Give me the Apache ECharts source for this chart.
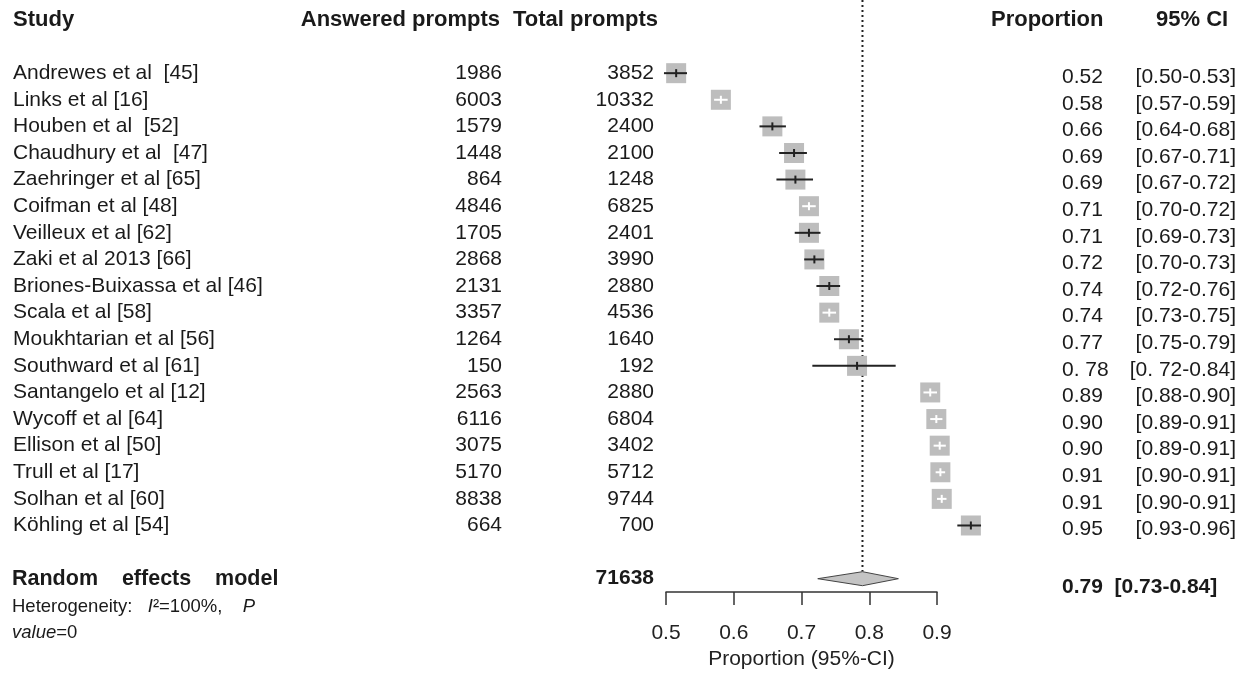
<!DOCTYPE html>
<html>
<head>
<meta charset="utf-8">
<script src="https://cdn.jsdelivr.net/npm/echarts@6.0.0/dist/echarts.min.js"></script>
<style>
  html, body { margin: 0; padding: 0; background: #fff; }
  #forest { width: 1246px; height: 675px; }
</style>
</head>
<body>
<div id="forest"></div>
<script>
const headers = ["Study", "Answered prompts", "Total prompts", "Proportion", "95% CI"];
const studies = [
  "Andrewes et al  [45]", "Links et al [16]", "Houben et al  [52]", "Chaudhury et al  [47]",
  "Zaehringer et al [65]", "Coifman et al [48]", "Veilleux et al [62]", "Zaki et al 2013 [66]",
  "Briones-Buixassa et al [46]", "Scala et al [58]", "Moukhtarian et al [56]", "Southward et al [61]",
  "Santangelo et al [12]", "Wycoff et al [64]", "Ellison et al [50]", "Trull et al [17]",
  "Solhan et al [60]", "Köhling et al [54]"
];
const answered = ["1986", "6003", "1579", "1448", "864", "4846", "1705", "2868", "2131",
  "3357", "1264", "150", "2563", "6116", "3075", "5170", "8838", "664"];
const total = ["3852", "10332", "2400", "2100", "1248", "6825", "2401", "3990", "2880",
  "4536", "1640", "192", "2880", "6804", "3402", "5712", "9744", "700"];
const propText = ["0.52", "0.58", "0.66", "0.69", "0.69", "0.71", "0.71", "0.72", "0.74",
  "0.74", "0.77", "0. 78", "0.89", "0.90", "0.90", "0.91", "0.91", "0.95"];
const ciText = ["[0.50-0.53]", "[0.57-0.59]", "[0.64-0.68]", "[0.67-0.71]", "[0.67-0.72]",
  "[0.70-0.72]", "[0.69-0.73]", "[0.70-0.73]", "[0.72-0.76]", "[0.73-0.75]", "[0.75-0.79]",
  "[0. 72-0.84]", "[0.88-0.90]", "[0.89-0.91]", "[0.89-0.91]", "[0.90-0.91]", "[0.90-0.91]",
  "[0.93-0.96]"];
// estimates and interval ends
const est = [0.515, 0.581, 0.657, 0.689, 0.691, 0.711, 0.711, 0.719, 0.741,
  0.741, 0.770, 0.782, 0.890, 0.899, 0.904, 0.905, 0.907, 0.950];
const lower = [0.497, 0.571, 0.638, 0.667, 0.663, 0.701, 0.690, 0.704, 0.722,
  0.731, 0.748, 0.716, 0.880, 0.890, 0.895, 0.898, 0.900, 0.930];
const upper = [0.531, 0.591, 0.677, 0.708, 0.717, 0.721, 0.728, 0.733, 0.757,
  0.751, 0.790, 0.839, 0.900, 0.908, 0.913, 0.912, 0.914, 0.965];
const pooledEst = 0.79;
const pooledLower = 0.724;
const pooledUpper = 0.843;
const pooledTotal = "71638";
const pooledText = "0.79  [0.73-0.84]";

const FONT = '"Liberation Sans", Arial, sans-serif';
const INK = "#1a1a1a";
const pooledRow = studies.length + 1;

// column anchors for the table text
const colX = [13, 502, 654, 1062, 1236];
const colAlign = ["left", "right", "right", "left", "right"];

function txt(x, y, text, size, align, weight) {
  return {
    type: "text",
    x: x,
    y: y,
    silent: true,
    style: {
      text: text,
      font: (weight || "normal") + " " + size + "px " + FONT,
      fill: INK,
      align: align,
      verticalAlign: "middle",
    },
  };
}

const chart = echarts.init(document.getElementById("forest"));

const option = {
  animation: false,
  backgroundColor: "#fff",
  grid: { left: 666, right: 309, top: 0, bottom: 83 },
  xAxis: {
    type: "value",
    min: 0.5,
    max: 0.9,
    interval: 0.1,
    splitLine: { show: false },
    axisLine: { show: true, onZero: false, lineStyle: { color: "#333", width: 1.5 } },
    axisTick: { show: true, length: 13, lineStyle: { color: "#333", width: 1.5 } },
    axisLabel: {
      color: "#222",
      fontSize: 21,
      fontFamily: FONT,
      margin: 31,
      formatter: (v) => v.toFixed(1),
    },
    name: "Proportion (95%-CI)",
    nameLocation: "middle",
    nameGap: 57,
    nameTextStyle: { color: "#222", fontSize: 21, fontFamily: FONT },
  },
  yAxis: {
    type: "value",
    inverse: true,
    min: -2.75,
    max: 19.5,
    show: false,
  },
  series: [
    {
      // reference line at the pooled estimate
      type: "line",
      data: [[pooledEst, -2.75], [pooledEst, pooledRow - 0.27]],
      symbol: "none",
      silent: true,
      lineStyle: { color: "#222", width: 2, type: [2, 3] },
      z: 1,
    },
    {
      // study boxes with confidence intervals
      type: "custom",
      data: est.map((e, i) => [e, i, lower[i], upper[i]]),
      clip: false,
      silent: true,
      z: 3,
      renderItem: (params, api) => {
        const c = api.coord([api.value(0), api.value(1)]);
        const lo = api.coord([api.value(2), api.value(1)]);
        const hi = api.coord([api.value(3), api.value(1)]);
        const half = 10;
        const inside = lo[0] >= c[0] - half && hi[0] <= c[0] + half;
        const wc = inside ? "#ffffff" : "#222";
        return {
          type: "group",
          children: [
            {
              type: "rect",
              shape: { x: c[0] - half, y: c[1] - half, width: half * 2, height: half * 2 },
              style: { fill: "#bdbdbd" },
            },
            {
              type: "line",
              shape: { x1: lo[0], y1: c[1], x2: hi[0], y2: c[1] },
              style: { stroke: wc, lineWidth: 2 },
            },
            {
              type: "line",
              shape: { x1: c[0], y1: c[1] - 4, x2: c[0], y2: c[1] + 4 },
              style: { stroke: wc, lineWidth: 2 },
            },
          ],
        };
      },
    },
    {
      // pooled diamond
      type: "custom",
      data: [[pooledEst, pooledRow, pooledLower, pooledUpper]],
      clip: false,
      silent: true,
      z: 3,
      renderItem: (params, api) => {
        const c = api.coord([api.value(0), api.value(1)]);
        const lo = api.coord([api.value(2), api.value(1)]);
        const hi = api.coord([api.value(3), api.value(1)]);
        return {
          type: "polygon",
          shape: {
            points: [[lo[0], c[1]], [c[0], c[1] - 7], [hi[0], c[1]], [c[0], c[1] + 7]],
          },
          style: { fill: "#c4c4c4", stroke: "#444", lineWidth: 1 },
        };
      },
    },
    {
      // table text, one row per study
      type: "custom",
      data: studies.map((s, i) => [0.5, i]),
      clip: false,
      silent: true,
      renderItem: (params, api) => {
        const i = params.dataIndex;
        const y = api.coord([0.5, api.value(1)])[1];
        const cells = [studies[i], answered[i], total[i], propText[i], ciText[i]];
        return {
          type: "group",
          children: cells.map((t, k) => txt(colX[k], y + (k >= 3 ? 4 : 0), t, 21, colAlign[k])),
        };
      },
    },
    {
      // header and summary text
      type: "custom",
      data: [[0.5, -2]],
      clip: false,
      silent: true,
      renderItem: (params, api) => {
        const yh = api.coord([0.5, -2])[1];
        const ys = api.coord([0.5, pooledRow])[1];
        const yhet = api.coord([0.5, pooledRow + 1])[1];
        const yval = api.coord([0.5, pooledRow + 2])[1];
        return {
          type: "group",
          children: [
            txt(13, yh, headers[0], 22, "left", "bold"),
            txt(500, yh, headers[1], 22, "right", "bold"),
            txt(658, yh, headers[2], 22, "right", "bold"),
            txt(991, yh, headers[3], 22, "left", "bold"),
            txt(1156, yh, headers[4], 22, "left", "bold"),
            txt(12, ys, "Random    effects    model", 21.5, "left", "bold"),
            txt(654, ys, pooledTotal, 21, "right", "bold"),
            txt(1062, ys + 9, pooledText, 21, "left", "bold"),
            {
              type: "text",
              x: 12,
              y: yhet + 2,
              silent: true,
              style: {
                text: "{n|Heterogeneity:   }{i|I}{n|²=100%,    }{i|P}",
                verticalAlign: "middle",
                rich: {
                  n: { font: "18.5px " + FONT, fill: INK },
                  i: { font: "italic 18.5px " + FONT, fill: INK },
                },
              },
            },
            {
              type: "text",
              x: 12,
              y: yval + 1,
              silent: true,
              style: {
                text: "{i|value}{n|=0}",
                verticalAlign: "middle",
                rich: {
                  n: { font: "18.5px " + FONT, fill: INK },
                  i: { font: "italic 18.5px " + FONT, fill: INK },
                },
              },
            },
          ],
        };
      },
    },
  ],
};

chart.setOption(option);
window.addEventListener("resize", () => {
  chart.resize();
});
</script>
</body>
</html>
